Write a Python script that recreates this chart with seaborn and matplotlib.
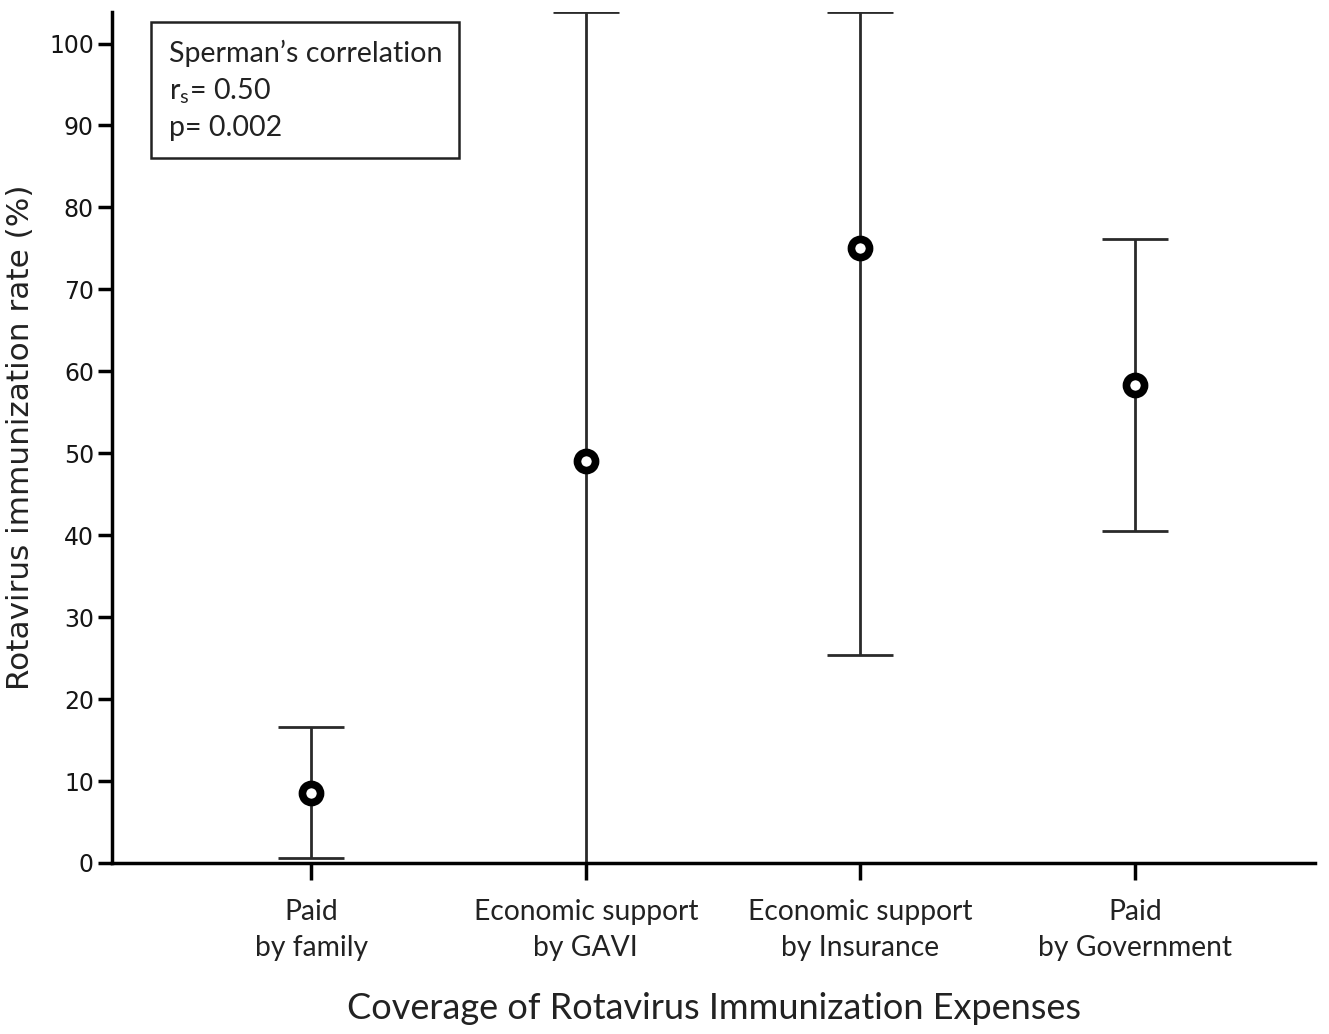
import matplotlib
matplotlib.use("Agg")
import matplotlib.pyplot as plt
import seaborn as sns
import pandas as pd

# Coverage groups and immunization rate (%) with 95% CI bounds
categories = ["Paid\nby family", "Economic support\nby GAVI",
              "Economic support\nby Insurance", "Paid\nby Government"]
rate_mean = [8.5, 49.0, 75.0, 58.3]
ci_lower = [0.6, 0.0, 25.4, 40.5]
ci_upper = [16.6, 103.8, 103.9, 76.1]
y_ticks = [0, 10, 20, 30, 40, 50, 60, 70, 80, 90, 100]

sns.set_theme(style="ticks")
plt.rcParams["font.family"] = ["DejaVu Sans"]

df = pd.DataFrame({"group": categories, "rate": rate_mean,
                   "lo": ci_lower, "hi": ci_upper})

fig = plt.figure(figsize=(13.29, 10.34), dpi=100)
ax = fig.add_axes([0.0843, 0.1654, 0.9052, 0.8226])

xpos = list(range(len(categories)))
ax.errorbar(xpos, df["rate"],
            yerr=[df["rate"] - df["lo"], df["hi"] - df["rate"]],
            fmt="none", ecolor="#2a2a2a", elinewidth=2.0,
            capsize=24, capthick=2.0, zorder=2)
sns.scatterplot(data=df, x="group", y="rate", ax=ax, marker="o", s=170,
                facecolor="white", edgecolor="black", linewidth=5.5,
                zorder=3, legend=False)

ax.set_xlim(-0.725, 3.655)
ax.set_ylim(0, 103.8)
ax.set_yticks(y_ticks)
ax.set_yticklabels([str(t) for t in y_ticks], fontsize=17, color="#151515")
ax.set_xticks(xpos)
ax.set_xticklabels(categories, fontsize=20.3, family="Lato",
                   color="#222222", linespacing=1.45)

for side in ["top", "right"]:
    ax.spines[side].set_visible(False)
for side in ["left", "bottom"]:
    ax.spines[side].set_linewidth(2.5)
    ax.spines[side].set_color("black")
ax.tick_params(axis="y", length=10, width=2.5, color="black", pad=3)
ax.tick_params(axis="x", length=12, width=2.5, color="black", pad=14)

ax.set_xlabel("Coverage of Rotavirus Immunization Expenses", fontsize=26,
              family="Lato", color="#222222", labelpad=23)
ax.set_ylabel("Rotavirus immunization rate (%)", fontsize=22.4,
              color="#222222", labelpad=10)

ax.text(0.047, 0.968,
        "Sperman\u2019s correlation\nr$_\\mathregular{s}$= 0.50\np= 0.002",
        transform=ax.transAxes, ha="left", va="top", fontsize=20.6,
        family="Lato", color="#222222", linespacing=1.42,
        bbox=dict(boxstyle="square,pad=0.6", facecolor="white",
                  edgecolor="#222222", linewidth=1.8))

fig.savefig("out.png", dpi=100)
